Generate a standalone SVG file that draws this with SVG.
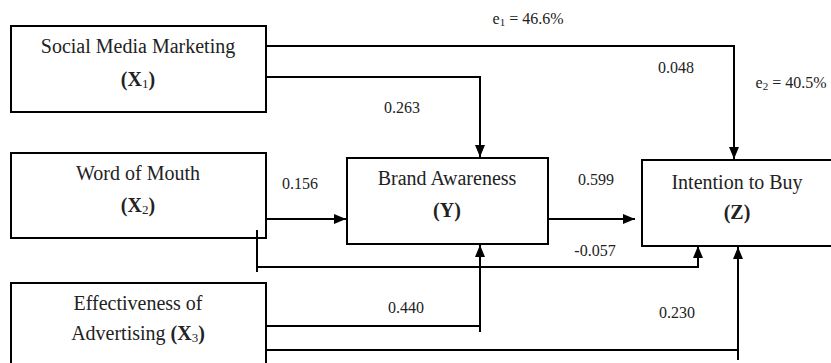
<svg xmlns="http://www.w3.org/2000/svg" width="831" height="363" viewBox="0 0 831 363">
<defs>
<marker id="ah" viewBox="0 0 12 10" refX="12" refY="5" markerWidth="12" markerHeight="10" markerUnits="userSpaceOnUse" orient="auto">
<path d="M0,0 L12,5 L0,10 Z" fill="#000"/>
</marker>
</defs>
<style>
.box{fill:#fff;stroke:#000;stroke-width:2}
.t{font-family:'Liberation Serif','DejaVu Serif',serif;font-size:20px;fill:#222;text-anchor:middle}
.b{font-weight:bold}
.sub{font-size:13px;font-weight:normal}
.lbl{font-family:'Liberation Serif','DejaVu Serif',serif;font-size:16px;fill:#222;text-anchor:middle}
.c{fill:none;stroke:#000;stroke-width:2}
</style>
<rect width="831" height="363" fill="#fff"/>
<g id="x1">
<rect class="box" x="11" y="26" width="255" height="86"/>
<text class="t" x="138" y="53">Social Media Marketing</text>
<text class="t b" x="138" y="86">(X<tspan class="sub" dy="2">1</tspan><tspan dy="-2">)</tspan></text>
</g>
<g id="x2">
<rect class="box" x="11" y="153" width="255" height="85"/>
<text class="t" x="138" y="180">Word of Mouth</text>
<text class="t b" x="138" y="212">(X<tspan class="sub" dy="2">2</tspan><tspan dy="-2">)</tspan></text>
</g>
<g id="x3">
<rect class="box" x="11" y="283" width="255" height="100"/>
<text class="t" x="138" y="310">Effectiveness of</text>
<text class="t" x="138" y="340">Advertising <tspan class="b">(X</tspan><tspan class="sub" dy="2">3</tspan><tspan class="b" dy="-2">)</tspan></text>
</g>
<g id="y">
<rect class="box" x="347" y="158" width="201" height="86"/>
<text class="t" x="447" y="185">Brand Awareness</text>
<text class="t b" x="447" y="217">(Y)</text>
</g>
<g id="z">
<rect class="box" x="642" y="160" width="200" height="86"/>
<text class="t" x="737" y="189">Intention to Buy</text>
<text class="t b" x="737" y="219">(Z)</text>
</g>
<g id="connectors">
<polyline class="c" points="266,46 734,46 734,159" marker-end="url(#ah)"/>
<polyline class="c" points="266,77 480,77 480,157" marker-end="url(#ah)"/>
<line class="c" x1="266" y1="219" x2="346" y2="219" marker-end="url(#ah)"/>
<line class="c" x1="548" y1="219" x2="635" y2="219" marker-end="url(#ah)"/>
<polyline class="c" points="257,230 257,272"/>
<polyline class="c" points="257,267 698,267 698,246" marker-end="url(#ah)"/>
<polyline class="c" points="480,332 480,245" marker-end="url(#ah)"/>
<line class="c" x1="266" y1="326" x2="481" y2="326"/>
<polyline class="c" points="738,360 738,247" marker-end="url(#ah)"/>
<line class="c" x1="266" y1="350" x2="739" y2="350"/>
</g>
<g id="labels">
<text class="lbl" x="528" y="24">e<tspan font-size="11" dy="2">1</tspan><tspan dy="-2"> = 46.6%</tspan></text>
<text class="lbl" x="676" y="73">0.048</text>
<text class="lbl" x="791" y="88">e<tspan font-size="11" dy="2">2</tspan><tspan dy="-2"> = 40.5%</tspan></text>
<text class="lbl" x="402" y="113">0.263</text>
<text class="lbl" x="300" y="189">0.156</text>
<text class="lbl" x="596" y="185">0.599</text>
<text class="lbl" x="595" y="256">-0.057</text>
<text class="lbl" x="406" y="313">0.440</text>
<text class="lbl" x="677" y="318">0.230</text>
</g>
</svg>
